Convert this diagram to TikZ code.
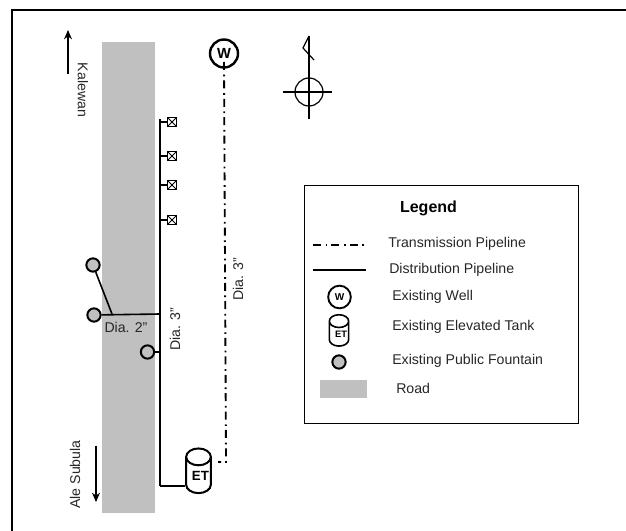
\documentclass[tikz,border=0pt]{standalone}
\usepackage{fontspec}
\setmainfont{Liberation Sans}
\usepackage{xcolor}
\usetikzlibrary{arrows.meta,positioning,shapes.geometric}
\definecolor{roadgray}{RGB}{192,192,192}
\tikzset{
  txt/.style    ={font=\fontsize{10.6}{12}\selectfont, inner sep=0pt, text=black!85},
  rtxt/.style   ={txt, rotate=-90},
  ltxt/.style   ={txt, rotate=90},
  legtxt/.style ={txt, anchor=west},
  road/.style   ={fill=roadgray, draw=none, inner sep=0pt},
  wellnode/.style={circle, draw, line width=1.8pt, fill=white, minimum size=21pt, inner sep=0pt,
                  font=\bfseries\fontsize{11}{12}\selectfont},
  lwell/.style  ={wellnode, line width=1.4pt, minimum size=17pt, font=\bfseries\fontsize{7.5}{8}\selectfont},
  fountain/.style={circle, draw, line width=1.5pt, fill=roadgray, minimum size=10pt, inner sep=0pt},
  tapnode/.style={draw, line width=1.1pt, fill=white, minimum size=7pt, inner sep=0pt, path picture={
                  \draw[line width=0.6pt] (path picture bounding box.north west) -- (path picture bounding box.south east)
                  (path picture bounding box.north east) -- (path picture bounding box.south west);}},
  tank/.style   ={cylinder, shape border rotate=90, draw, line width=1.5pt, fill=white, aspect=0.8,
                  inner sep=0pt, text=black},
  dist/.style   ={line width=1.2pt},
  trans/.style  ={line width=1.4pt, dash pattern=on 6pt off 3.5pt on 1.3pt off 3pt},
  thin/.style   ={line width=0.9pt},
  arr/.style    ={-{Stealth[length=7pt,width=6pt]}, line width=0.9pt},
}
\begin{document}
\begin{tikzpicture}[x=0.75pt,y=-0.75pt]
  \useasboundingbox (0,0) rectangle (626,531);
  %% page frame, cut by the page
  \coordinate (fc) at (12,10);
  \coordinate (fr) at (626,10);
  \coordinate (fb) at (12,531);
  \draw[line width=1.5pt] (fb) -- (fc) -- (fr);
  %% road
  \node[road, anchor=north west, minimum width=53*0.75pt, minimum height=471*0.75pt] (rd) at (102,42) {};
  %% distribution line
  \coordinate (dtop) at (160,119);
  \coordinate (dbot) at (160,486);
  \draw[dist] (dtop) -- (dbot);
  \foreach \name/\yy in {a/122,b/156,c/185,d/220}{
    \node[tapnode] (tap\name) at (172,\yy) {};
    \draw[dist] (160,\yy) -- (tap\name);
  }
  %% fountains
  \node[fountain] (f1) at (93,265) {};
  \node[fountain] (f2) at (94,315) {};
  \node[fountain] (f3) at (147.5,352) {};
  \coordinate (j1) at (160,314);
  \coordinate (j2) at (112,314);
  \coordinate (j3) at (160,352);
  \draw[dist] (f2) -- (j1);
  \draw[dist] (f1) -- (j2);
  \draw[dist] (f3) -- (j3);
  %% well and tank
  \node[wellnode] (w) at (224,53.5) {W};
  \node[tank, minimum width=18.5pt, minimum height=33.5pt, font=\bfseries\fontsize{10}{11}\selectfont] (et) at (198.5,475.5) {\raisebox{-2.5pt}{\hspace{3pt}ET}};
  \draw[dist] (dbot) -- (et.west |- dbot);
  \coordinate (t0) at (224,62);
  \coordinate (c1) at (226,462);
  \coordinate (c2) at (218,462);
  \draw[trans] (t0) -- (c1) -- (c2);
  %% north sign
  \coordinate (ntop) at (309,36);
  \coordinate (nbot) at (309,119);
  \coordinate (nk) at (303,48);
  \coordinate (nt) at (314,60);
  \node[circle, draw, thin, minimum size=21pt, inner sep=0pt] (nc) at (309,92) {};
  \draw[thin] (ntop) -- (nbot);
  \draw[thin] (ntop) -- (nk) -- (nt);
  \coordinate (nl) at (283,92);
  \coordinate (nr) at (332,92);
  \draw[thin] (nl) -- (nr);
  %% arrows and labels
  \coordinate (ka) at (68,74);
  \coordinate (kb) at (68,30);
  \draw[arr] (ka) -- (kb);
  \coordinate (aa) at (96,446);
  \coordinate (ab) at (96,502);
  \draw[arr] (aa) -- (ab);
  \node[rtxt] (kal) at (83,90) {Kalewan};
  \node[ltxt] (ale) at (75,474.5) {Ale Subula};
  \node[ltxt] (d3a) at (175,329) {Dia. 3"};
  \node[ltxt] (d3b) at (238,279) {Dia. 3"};
  \node[txt] (d2) at (126,327) {Dia. 2"};
  %% legend
  \node[draw, line width=0.9pt, anchor=north west, minimum width=274*0.75pt, minimum height=238*0.75pt, inner sep=0pt] (leg) at (304,185) {};
  \node[font=\bfseries\fontsize{12}{14}\selectfont, inner sep=0pt] (legt) at (428.5,208) {Legend};
  \coordinate (l1a) at (313,245);
  \coordinate (l1b) at (365,245);
  \draw[trans] (l1a) -- (l1b);
  \coordinate (l2a) at (313,270);
  \coordinate (l2b) at (366,270);
  \draw[dist] (l2a) -- (l2b);
  \node[legtxt] (t1) at (388,244) {Transmission Pipeline};
  \node[legtxt] (t2) at (389,270) {Distribution Pipeline};
  \node[legtxt] (t3) at (392,297) {Existing Well};
  \node[legtxt] (t4) at (392,327) {Existing Elevated Tank};
  \node[legtxt] (t5) at (392,361) {Existing Public Fountain};
  \node[legtxt] (t6) at (396,388) {Road};
  \node[lwell] (lw) at (339.5,297) {W};
  \node[tank, minimum width=14.5pt, minimum height=23.5pt, line width=1.2pt, font=\bfseries\fontsize{7}{8}\selectfont] (lt) at (339,334) {\raisebox{-1.5pt}{\hspace{3pt}ET}};
  \node[fountain] (lf) at (339,362) {};
  \node[road, minimum width=47*0.75pt, minimum height=18*0.75pt] (lr) at (343.5,389) {};
\end{tikzpicture}
\end{document}
